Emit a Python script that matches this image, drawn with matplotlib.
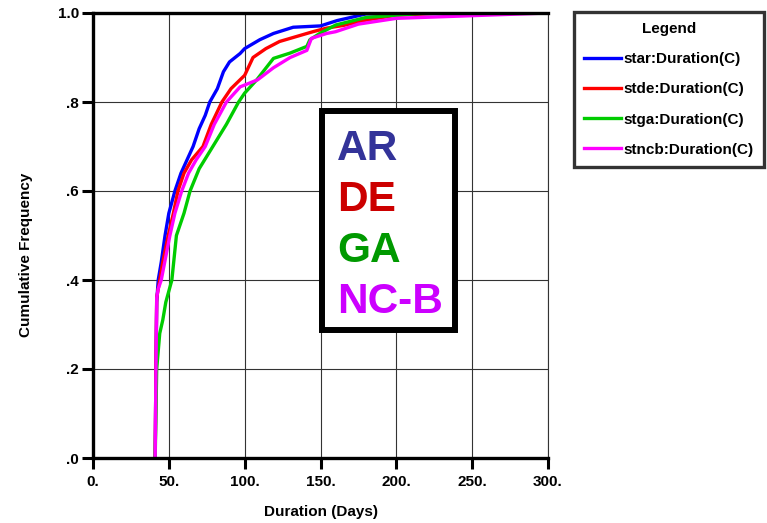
import matplotlib.pyplot as plt
from matplotlib.patches import Rectangle

plt.rcParams['font.family'] = ['Liberation Sans', 'DejaVu Sans']
plt.rcParams['font.weight'] = 'bold'
plt.rcParams['axes.labelweight'] = 'bold'

# cumulative duration curves (days, cumulative frequency)
star_days = [41, 41.5, 42, 43, 45, 47.5, 50, 54, 58, 62, 66, 70, 74, 77, 82, 86, 90,
             97, 100, 110, 119, 132, 150, 161, 170, 180, 300]
star_cum = [0, 0.2, 0.35, 0.40, 0.44, 0.50, 0.55, 0.60, 0.64, 0.67, 0.70, 0.74, 0.77,
            0.80, 0.83, 0.868, 0.89, 0.909, 0.92, 0.94, 0.954, 0.968, 0.971, 0.983,
            0.99, 0.998, 1.0]

stde_days = [41, 41.5, 42, 44, 46, 49.6, 53, 56, 60, 65, 72.5, 78, 85, 91, 97, 100,
             105.5, 114, 123, 134, 145, 154, 165, 180, 200, 230, 300]
stde_cum = [0, 0.2, 0.36, 0.40, 0.44, 0.50, 0.55, 0.60, 0.64, 0.67, 0.70, 0.75, 0.80,
            0.83, 0.85, 0.86, 0.90, 0.92, 0.936, 0.947, 0.958, 0.966, 0.972, 0.984,
            0.995, 1.0, 1.0]

stga_days = [41, 41.5, 42, 44, 46, 48, 52, 55, 60, 64, 70, 79, 88, 96, 100, 108,
             119, 130, 141, 143, 150, 160, 180, 200, 220, 300]
stga_cum = [0, 0.1, 0.2, 0.28, 0.31, 0.35, 0.40, 0.50, 0.55, 0.60, 0.65, 0.70, 0.75,
            0.80, 0.82, 0.85, 0.898, 0.91, 0.925, 0.94, 0.955, 0.973, 0.99, 0.995,
            1.0, 1.0]

stncb_days = [41, 41.5, 42, 43, 45, 50.7, 54, 58.5, 63, 68, 74, 80, 88, 97, 108.6,
              119, 130, 141, 144, 154, 160, 175, 200, 250, 300]
stncb_cum = [0, 0.2, 0.36, 0.38, 0.40, 0.50, 0.55, 0.60, 0.64, 0.67, 0.70, 0.75, 0.80,
             0.834, 0.85, 0.877, 0.90, 0.916, 0.943, 0.954, 0.958, 0.975, 0.988,
             0.994, 1.0]

series = [
    ("star:Duration(C)", star_days, star_cum, "#0000ff"),
    ("stde:Duration(C)", stde_days, stde_cum, "#ff0000"),
    ("stga:Duration(C)", stga_days, stga_cum, "#00cc00"),
    ("stncb:Duration(C)", stncb_days, stncb_cum, "#ff00ff"),
]

x_ticks = [0, 50, 100, 150, 200, 250, 300]
x_labels = ["0.", "50.", "100.", "150.", "200.", "250.", "300."]
y_ticks = [0, 0.2, 0.4, 0.6, 0.8, 1.0]
y_labels = [".0", ".2", ".4", ".6", ".8", "1.0"]

state_names = ["AR", "DE", "GA", "NC-B"]
state_colors = ["#333399", "#cc0000", "#009900", "#cc00ff"]

W, H = 767, 523
fig = plt.figure(figsize=(W / 100, H / 100), dpi=100)
ax = fig.add_axes([93 / W, 1 - 458 / H, 455 / W, 445 / H])

for label, d, c, col in series:
    ax.plot(d, c, color=col, lw=2.4, label=label)

ax.set_xlim(0, 300)
ax.set_ylim(0, 1.0)
ax.set_xticks(x_ticks)
ax.set_xticklabels(x_labels)
ax.set_yticks(y_ticks)
ax.set_yticklabels(y_labels)
ax.grid(True, color='#333333', lw=0.8)
ax.set_axisbelow(True)
ax.tick_params(direction='out', length=8, width=2.2, labelsize=11, pad=2, color='black')
ax.tick_params(axis='x', pad=4)

for side in ['left', 'bottom', 'top']:
    ax.spines[side].set_linewidth(2.4)
ax.spines['right'].set_linewidth(0.8)
ax.spines['right'].set_color('#333333')

ax.set_xlabel("Duration (Days)", fontsize=11, labelpad=12)
fig.text(26 / W, 1 - 255 / H, "Cumulative Frequency", rotation=90,
         ha='center', va='center', fontsize=11)

leg = fig.legend(loc='upper left', bbox_to_anchor=(574 / W, 1 - 12 / H),
                 title="Legend", fontsize=11, title_fontsize=11,
                 frameon=True, fancybox=False, borderaxespad=0,
                 handlelength=2.4, handletextpad=0.2, labelspacing=1.06,
                 borderpad=0.65)
leg.get_frame().set_edgecolor('black')
leg.get_frame().set_linewidth(2.4)
leg.get_title().set_fontweight('bold')

fig.patches.append(Rectangle((322 / W, 1 - 330 / H), 133 / W, 219 / H,
                             transform=fig.transFigure, facecolor='white',
                             edgecolor='black', lw=4.3, zorder=2))
for i, (name, col) in enumerate(zip(state_names, state_colors)):
    fig.text(337 / W, 1 - (160 + 51 * i) / H, name, color=col, fontsize=30.5,
             fontweight='bold', va='baseline', ha='left', zorder=3)

fig.savefig("out.png", dpi=100)
